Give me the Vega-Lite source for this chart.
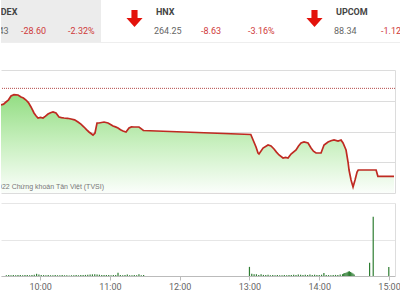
{
  "$schema": "https://vega.github.io/schema/vega-lite/v6.json",
  "padding": 0,
  "background": "white",
  "spacing": 10,
  "bounds": "flush",
  "config": {
    "view": {"stroke": null},
    "font": "Roboto",
    "locale": {"number": {"decimal": ".", "thousands": ",", "grouping": [3], "currency": ["", ""], "minus": "-"}}
  },
  "datasets": {
    "indices": [
      {"name": "VN-INDEX", "value": 1204.43, "change": -28.60, "pct": -0.0232},
      {"name": "HNX", "value": 264.25, "change": -8.63, "pct": -0.0316},
      {"name": "UPCOM", "value": 88.34, "change": -1.12, "pct": -0.0125}
    ],
    "note": [
      {"t": "2022-05-17T10:57:01", "v": 1200.95, "label": "© 2022 Chứng khoán Tân Việt (TVSI)"}
    ],
    "price": [
      {"t": "2022-05-17T09:30:42", "v": 1227.62},
      {"t": "2022-05-17T09:32:50", "v": 1227.9},
      {"t": "2022-05-17T09:34:53", "v": 1228.59},
      {"t": "2022-05-17T09:37:00", "v": 1229.3},
      {"t": "2022-05-17T09:39:05", "v": 1230.54},
      {"t": "2022-05-17T09:41:35", "v": 1230.97},
      {"t": "2022-05-17T09:44:57", "v": 1230.87},
      {"t": "2022-05-17T09:47:28", "v": 1230.22},
      {"t": "2022-05-17T09:49:30", "v": 1229.9},
      {"t": "2022-05-17T09:51:39", "v": 1229.24},
      {"t": "2022-05-17T09:53:40", "v": 1228.4},
      {"t": "2022-05-17T09:55:50", "v": 1226.97},
      {"t": "2022-05-17T09:58:21", "v": 1225.02},
      {"t": "2022-05-17T10:00:00", "v": 1224.1},
      {"t": "2022-05-17T10:01:43", "v": 1223.39},
      {"t": "2022-05-17T10:03:50", "v": 1223.6},
      {"t": "2022-05-17T10:05:54", "v": 1223.39},
      {"t": "2022-05-17T10:08:00", "v": 1224.0},
      {"t": "2022-05-17T10:10:05", "v": 1224.69},
      {"t": "2022-05-17T10:12:10", "v": 1225.1},
      {"t": "2022-05-17T10:14:17", "v": 1225.34},
      {"t": "2022-05-17T10:16:47", "v": 1225.02},
      {"t": "2022-05-17T10:19:18", "v": 1223.72},
      {"t": "2022-05-17T10:21:20", "v": 1223.5},
      {"t": "2022-05-17T10:23:29", "v": 1223.39},
      {"t": "2022-05-17T10:26:30", "v": 1223.3},
      {"t": "2022-05-17T10:29:22", "v": 1223.07},
      {"t": "2022-05-17T10:32:20", "v": 1222.8},
      {"t": "2022-05-17T10:35:14", "v": 1222.09},
      {"t": "2022-05-17T10:37:40", "v": 1221.4},
      {"t": "2022-05-17T10:40:15", "v": 1220.46},
      {"t": "2022-05-17T10:42:20", "v": 1219.6},
      {"t": "2022-05-17T10:44:26", "v": 1218.84},
      {"t": "2022-05-17T10:47:48", "v": 1217.86},
      {"t": "2022-05-17T10:49:28", "v": 1218.51},
      {"t": "2022-05-17T10:51:09", "v": 1221.76},
      {"t": "2022-05-17T10:52:49", "v": 1221.76},
      {"t": "2022-05-17T10:57:01", "v": 1222.09},
      {"t": "2022-05-17T11:00:22", "v": 1221.76},
      {"t": "2022-05-17T11:02:30", "v": 1221.3},
      {"t": "2022-05-17T11:04:34", "v": 1220.79},
      {"t": "2022-05-17T11:06:40", "v": 1220.5},
      {"t": "2022-05-17T11:08:45", "v": 1220.14},
      {"t": "2022-05-17T11:10:50", "v": 1219.6},
      {"t": "2022-05-17T11:12:56", "v": 1219.16},
      {"t": "2022-05-17T11:15:27", "v": 1218.84},
      {"t": "2022-05-17T11:17:58", "v": 1220.14},
      {"t": "2022-05-17T11:20:00", "v": 1220.5},
      {"t": "2022-05-17T11:22:09", "v": 1220.46},
      {"t": "2022-05-17T11:26:20", "v": 1220.46},
      {"t": "2022-05-17T11:29:42", "v": 1219.49},
      {"t": "2022-05-17T11:30:00", "v": 1219.33},
      {"t": "2022-05-17T13:00:00", "v": 1218.03},
      {"t": "2022-05-17T13:04:23", "v": 1213.96},
      {"t": "2022-05-17T13:06:04", "v": 1212.01},
      {"t": "2022-05-17T13:06:54", "v": 1211.68},
      {"t": "2022-05-17T13:10:16", "v": 1213.63},
      {"t": "2022-05-17T13:14:27", "v": 1214.61},
      {"t": "2022-05-17T13:16:58", "v": 1214.28},
      {"t": "2022-05-17T13:19:28", "v": 1213.31},
      {"t": "2022-05-17T13:21:30", "v": 1212.3},
      {"t": "2022-05-17T13:23:40", "v": 1211.36},
      {"t": "2022-05-17T13:27:01", "v": 1210.38},
      {"t": "2022-05-17T13:29:10", "v": 1210.6},
      {"t": "2022-05-17T13:31:13", "v": 1210.38},
      {"t": "2022-05-17T13:33:43", "v": 1211.68},
      {"t": "2022-05-17T13:37:55", "v": 1212.98},
      {"t": "2022-05-17T13:40:00", "v": 1214.3},
      {"t": "2022-05-17T13:42:06", "v": 1215.26},
      {"t": "2022-05-17T13:44:37", "v": 1215.59},
      {"t": "2022-05-17T13:47:58", "v": 1215.26},
      {"t": "2022-05-17T13:50:29", "v": 1213.63},
      {"t": "2022-05-17T13:52:30", "v": 1212.6},
      {"t": "2022-05-17T13:54:40", "v": 1212.01},
      {"t": "2022-05-17T13:58:52", "v": 1212.01},
      {"t": "2022-05-17T14:01:22", "v": 1214.61},
      {"t": "2022-05-17T14:04:44", "v": 1215.59},
      {"t": "2022-05-17T14:07:10", "v": 1216.0},
      {"t": "2022-05-17T14:09:45", "v": 1216.24},
      {"t": "2022-05-17T14:13:07", "v": 1215.91},
      {"t": "2022-05-17T14:15:37", "v": 1216.24},
      {"t": "2022-05-17T14:17:18", "v": 1215.26},
      {"t": "2022-05-17T14:19:49", "v": 1212.98},
      {"t": "2022-05-17T14:21:29", "v": 1209.08},
      {"t": "2022-05-17T14:22:19", "v": 1206.48},
      {"t": "2022-05-17T14:24:00", "v": 1203.23},
      {"t": "2022-05-17T14:25:41", "v": 1200.95},
      {"t": "2022-05-17T14:27:21", "v": 1203.23},
      {"t": "2022-05-17T14:29:02", "v": 1205.83},
      {"t": "2022-05-17T14:30:00", "v": 1206.48},
      {"t": "2022-05-17T14:45:00", "v": 1206.48},
      {"t": "2022-05-17T14:46:30", "v": 1204.43},
      {"t": "2022-05-17T15:00:00", "v": 1204.43}
    ],
    "volume": [
      {"t": "2022-05-17T09:31:00", "q": 0.2}, {"t": "2022-05-17T09:33:00", "q": 0.25}, {"t": "2022-05-17T09:35:00", "q": 0.2},
      {"t": "2022-05-17T09:37:00", "q": 0.3}, {"t": "2022-05-17T09:39:00", "q": 0.2}, {"t": "2022-05-17T09:41:00", "q": 0.25},
      {"t": "2022-05-17T09:43:00", "q": 0.3}, {"t": "2022-05-17T09:45:00", "q": 0.2}, {"t": "2022-05-17T09:47:00", "q": 0.25},
      {"t": "2022-05-17T09:49:00", "q": 0.3}, {"t": "2022-05-17T09:51:00", "q": 0.2}, {"t": "2022-05-17T09:53:00", "q": 0.3},
      {"t": "2022-05-17T09:55:00", "q": 0.35}, {"t": "2022-05-17T09:57:00", "q": 0.6}, {"t": "2022-05-17T09:59:00", "q": 0.4},
      {"t": "2022-05-17T10:01:00", "q": 0.3}, {"t": "2022-05-17T10:03:00", "q": 0.25}, {"t": "2022-05-17T10:05:00", "q": 0.2},
      {"t": "2022-05-17T10:07:00", "q": 0.25}, {"t": "2022-05-17T10:09:00", "q": 0.2}, {"t": "2022-05-17T10:11:00", "q": 0.2},
      {"t": "2022-05-17T10:13:00", "q": 0.25}, {"t": "2022-05-17T10:15:00", "q": 0.2}, {"t": "2022-05-17T10:17:00", "q": 0.2},
      {"t": "2022-05-17T10:19:00", "q": 0.25}, {"t": "2022-05-17T10:21:00", "q": 0.2}, {"t": "2022-05-17T10:23:00", "q": 0.2},
      {"t": "2022-05-17T10:25:00", "q": 0.15}, {"t": "2022-05-17T10:27:00", "q": 0.2}, {"t": "2022-05-17T10:29:00", "q": 0.2},
      {"t": "2022-05-17T10:31:00", "q": 0.25}, {"t": "2022-05-17T10:33:00", "q": 0.2}, {"t": "2022-05-17T10:35:00", "q": 0.3},
      {"t": "2022-05-17T10:37:00", "q": 0.25}, {"t": "2022-05-17T10:39:00", "q": 0.3}, {"t": "2022-05-17T10:41:00", "q": 0.35},
      {"t": "2022-05-17T10:43:00", "q": 0.4}, {"t": "2022-05-17T10:45:00", "q": 0.45}, {"t": "2022-05-17T10:47:00", "q": 0.5},
      {"t": "2022-05-17T10:49:00", "q": 0.4}, {"t": "2022-05-17T10:51:00", "q": 0.35}, {"t": "2022-05-17T10:53:00", "q": 0.3},
      {"t": "2022-05-17T10:55:00", "q": 0.3}, {"t": "2022-05-17T10:57:00", "q": 0.25}, {"t": "2022-05-17T10:59:00", "q": 0.3},
      {"t": "2022-05-17T11:01:00", "q": 0.2}, {"t": "2022-05-17T11:03:00", "q": 0.25}, {"t": "2022-05-17T11:05:00", "q": 0.3},
      {"t": "2022-05-17T11:07:00", "q": 0.9}, {"t": "2022-05-17T11:09:00", "q": 0.3}, {"t": "2022-05-17T11:11:00", "q": 0.2},
      {"t": "2022-05-17T11:13:00", "q": 0.25}, {"t": "2022-05-17T11:15:00", "q": 0.4}, {"t": "2022-05-17T11:17:00", "q": 0.2},
      {"t": "2022-05-17T11:19:00", "q": 0.2}, {"t": "2022-05-17T11:21:00", "q": 0.25}, {"t": "2022-05-17T11:23:00", "q": 0.2},
      {"t": "2022-05-17T11:25:00", "q": 0.45}, {"t": "2022-05-17T11:27:00", "q": 0.2}, {"t": "2022-05-17T11:29:00", "q": 0.25},
      {"t": "2022-05-17T13:00:00", "q": 2.5}, {"t": "2022-05-17T13:02:00", "q": 0.6}, {"t": "2022-05-17T13:04:00", "q": 0.5},
      {"t": "2022-05-17T13:06:00", "q": 0.45}, {"t": "2022-05-17T13:08:00", "q": 0.3}, {"t": "2022-05-17T13:10:00", "q": 0.5},
      {"t": "2022-05-17T13:12:00", "q": 0.3}, {"t": "2022-05-17T13:14:00", "q": 0.25}, {"t": "2022-05-17T13:16:00", "q": 0.35},
      {"t": "2022-05-17T13:18:00", "q": 0.2}, {"t": "2022-05-17T13:20:00", "q": 0.25}, {"t": "2022-05-17T13:22:00", "q": 0.2},
      {"t": "2022-05-17T13:24:00", "q": 0.3}, {"t": "2022-05-17T13:26:00", "q": 0.2}, {"t": "2022-05-17T13:28:00", "q": 0.2},
      {"t": "2022-05-17T13:30:00", "q": 0.25}, {"t": "2022-05-17T13:32:00", "q": 0.2}, {"t": "2022-05-17T13:34:00", "q": 0.3},
      {"t": "2022-05-17T13:36:00", "q": 0.25}, {"t": "2022-05-17T13:38:00", "q": 0.35}, {"t": "2022-05-17T13:40:00", "q": 0.3},
      {"t": "2022-05-17T13:42:00", "q": 0.4}, {"t": "2022-05-17T13:44:00", "q": 0.35}, {"t": "2022-05-17T13:46:00", "q": 0.3},
      {"t": "2022-05-17T13:48:00", "q": 0.35}, {"t": "2022-05-17T13:50:00", "q": 0.3}, {"t": "2022-05-17T13:52:00", "q": 0.4},
      {"t": "2022-05-17T13:54:00", "q": 0.3}, {"t": "2022-05-17T13:56:00", "q": 0.35}, {"t": "2022-05-17T13:58:00", "q": 0.3},
      {"t": "2022-05-17T14:00:00", "q": 0.3}, {"t": "2022-05-17T14:02:00", "q": 0.35}, {"t": "2022-05-17T14:04:00", "q": 0.8},
      {"t": "2022-05-17T14:06:00", "q": 0.3}, {"t": "2022-05-17T14:08:00", "q": 0.25}, {"t": "2022-05-17T14:10:00", "q": 0.2},
      {"t": "2022-05-17T14:12:00", "q": 0.25}, {"t": "2022-05-17T14:14:00", "q": 0.3}, {"t": "2022-05-17T14:16:00", "q": 0.3},
      {"t": "2022-05-17T14:18:00", "q": 0.4}, {"t": "2022-05-17T14:20:00", "q": 0.5}, {"t": "2022-05-17T14:21:00", "q": 0.7},
      {"t": "2022-05-17T14:22:00", "q": 0.8}, {"t": "2022-05-17T14:23:00", "q": 0.9}, {"t": "2022-05-17T14:24:00", "q": 1.0},
      {"t": "2022-05-17T14:25:00", "q": 1.2}, {"t": "2022-05-17T14:26:00", "q": 1.3}, {"t": "2022-05-17T14:27:00", "q": 1.1},
      {"t": "2022-05-17T14:28:00", "q": 0.9}, {"t": "2022-05-17T14:29:00", "q": 0.7}, {"t": "2022-05-17T14:30:00", "q": 0.4},
      {"t": "2022-05-17T14:43:18", "q": 3.6}, {"t": "2022-05-17T14:46:24", "q": 16.2}, {"t": "2022-05-17T14:59:48", "q": 2.5}
    ]
  },
  "vconcat": [
    {
      "width": 400,
      "height": 60,
      "data": {"name": "indices"},
      "resolve": {"scale": {"x": "independent"}},
      "layer": [
        {
          "transform": [{"filter": "datum.name === 'VN-INDEX'"}],
          "mark": {"type": "bar", "color": "#ececec", "clip": true},
          "encoding": {
            "x": {"field": "name", "type": "nominal", "sort": null, "axis": null,
                  "scale": {"type": "band", "domain": ["VN-INDEX", "HNX", "UPCOM"], "range": [-80, 460], "paddingInner": 0, "paddingOuter": 0}},
            "y": {"value": 0},
            "y2": {"value": 42}
          }
        },
        {
          "mark": {"type": "rule", "color": "#eeeeee", "strokeWidth": 1},
          "encoding": {"y": {"value": 42.5}}
        },
        {
          "mark": {"type": "point", "filled": true, "opacity": 1, "color": "#e3120b", "clip": true,
                   "shape": "M-0.36,-1L0.36,-1L0.36,-0.05L0.95,-0.05L0,1L-0.95,-0.05L-0.36,-0.05Z", "size": 289},
          "encoding": {
            "x": {"field": "name", "type": "nominal", "axis": null,
                  "scale": {"type": "point", "domain": ["VN-INDEX", "HNX", "UPCOM"], "range": [-46.5, 313.5], "padding": 0}},
            "y": {"value": 18.5}
          }
        },
        {
          "mark": {"type": "text", "align": "left", "baseline": "middle", "fontSize": 9, "fontWeight": "bold", "color": "#444444", "clip": true},
          "encoding": {
            "x": {"field": "name", "type": "nominal", "axis": null,
                  "scale": {"type": "point", "domain": ["VN-INDEX", "HNX", "UPCOM"], "range": [-25, 335], "padding": 0}},
            "y": {"value": 12},
            "text": {"field": "name"}
          }
        },
        {
          "mark": {"type": "text", "align": "left", "baseline": "middle", "fontSize": 9, "color": "#666666", "clip": true},
          "encoding": {
            "x": {"field": "name", "type": "nominal", "axis": null,
                  "scale": {"type": "point", "domain": ["VN-INDEX", "HNX", "UPCOM"], "range": [-27, 333], "padding": 0}},
            "y": {"value": 31},
            "text": {"field": "value", "format": ",.2f"}
          }
        },
        {
          "mark": {"type": "text", "align": "left", "baseline": "middle", "fontSize": 9, "color": "#cf3a3a", "clip": true},
          "encoding": {
            "x": {"field": "name", "type": "nominal", "axis": null,
                  "scale": {"type": "point", "domain": ["VN-INDEX", "HNX", "UPCOM"], "range": [20, 380], "padding": 0}},
            "y": {"value": 31},
            "text": {"field": "change", "format": ".2f"}
          }
        },
        {
          "mark": {"type": "text", "align": "left", "baseline": "middle", "fontSize": 9, "color": "#cf3a3a", "clip": true},
          "encoding": {
            "x": {"field": "name", "type": "nominal", "axis": null,
                  "scale": {"type": "point", "domain": ["VN-INDEX", "HNX", "UPCOM"], "range": [67, 427], "padding": 0}},
            "y": {"value": 31},
            "text": {"field": "pct", "format": ".2%"}
          }
        }
      ]
    },
    {
      "width": 394,
      "height": 123,
      "encoding": {
        "x": {"field": "t", "type": "temporal", "axis": null,
              "scale": {"domain": [{"year": 2022, "month": 5, "date": 17, "hours": 9, "minutes": 30, "seconds": 42},
                                   {"year": 2022, "month": 5, "date": 17, "hours": 15, "minutes": 0, "seconds": 50}]}},
        "y": {"field": "v", "type": "quantitative",
              "scale": {"domain": [1199, 1239], "zero": false, "nice": false},
              "axis": {"orient": "right", "labels": false, "ticks": false, "title": null, "domain": true, "domainColor": "#dcdcdc",
                       "grid": true, "gridColor": "#dcdcdc", "values": [1199, 1209, 1219, 1229, 1239]}}
      },
      "layer": [
        {
          "data": {"name": "price"},
          "mark": {"type": "area", "clip": true,
                   "color": {"gradient": "linear", "x1": 0, "y1": 0, "x2": 0, "y2": 1,
                             "stops": [{"offset": 0, "color": "#93dd83"}, {"offset": 0.5, "color": "#c9f0c0"}, {"offset": 1, "color": "#fbfefb"}]}},
          "encoding": {"y2": {"datum": 1199}}
        },
        {
          "data": {"name": "price"},
          "mark": {"type": "line", "clip": true, "color": "#bf2a22", "strokeWidth": 1.7}
        },
        {
          "data": {"name": "note"},
          "mark": {"type": "text", "align": "right", "baseline": "middle", "fontSize": 7, "font": "Liberation Sans", "color": "#777777", "clip": true},
          "encoding": {"text": {"field": "label"}}
        },
        {
          "data": {"values": [{"ref": 1233.03}]},
          "mark": {"type": "rule", "color": "#b44a4a", "strokeWidth": 1, "strokeDash": [1, 1]},
          "encoding": {"x": null, "y": {"field": "ref", "type": "quantitative"}}
        }
      ]
    },
    {
      "width": 394,
      "height": 73,
      "data": {"name": "volume"},
      "mark": {"type": "bar", "width": 1.2, "color": "#2e7d32", "clip": true},
      "encoding": {
        "x": {"field": "t", "type": "temporal",
              "scale": {"domain": [{"year": 2022, "month": 5, "date": 17, "hours": 9, "minutes": 30, "seconds": 42},
                                   {"year": 2022, "month": 5, "date": 17, "hours": 15, "minutes": 0, "seconds": 50}]},
              "axis": {"format": "%H:%M", "title": null, "grid": false, "labelColor": "#666666", "labelFontSize": 9,
                       "tickColor": "#bbbbbb", "tickSize": 4, "domainColor": "#bbbbbb", "labelPadding": 2,
                       "values": [{"year": 2022, "month": 5, "date": 17, "hours": 10},
                                  {"year": 2022, "month": 5, "date": 17, "hours": 11},
                                  {"year": 2022, "month": 5, "date": 17, "hours": 12},
                                  {"year": 2022, "month": 5, "date": 17, "hours": 13},
                                  {"year": 2022, "month": 5, "date": 17, "hours": 14},
                                  {"year": 2022, "month": 5, "date": 17, "hours": 15}]}},
        "y": {"field": "q", "type": "quantitative",
              "scale": {"domain": [0, 20], "nice": false},
              "axis": {"orient": "right", "labels": false, "ticks": false, "title": null, "domain": true, "domainColor": "#dddddd",
                       "grid": true, "gridColor": "#e6e6e6", "values": [0, 10, 20]}}
      }
    }
  ]
}
